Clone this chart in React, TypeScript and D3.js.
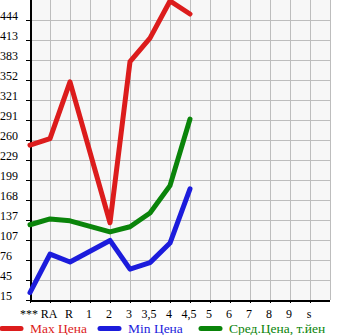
import React from "react";
import * as d3 from "d3";

const categories = ["***", "RA", "R", "1", "2", "3", "3,5", "4", "4,5", "5", "6", "7", "8", "9", "s"];
const yTickLabels = ["15", "45", "76", "107", "137", "168", "199", "229", "260", "291", "321", "352", "383", "413", "444"];
const maxPrice: (number | null)[] = [252, 262, 349, null, 133, 380, 416, 473, 453, null, null, null, null, null, null];
const minPrice: (number | null)[] = [26, 85, 73, null, 106, 62, 72, 102, 185, null, null, null, null, null, null];
const avgPrice: (number | null)[] = [130, 139, 136, null, 119, 127, 148, 190, 292, null, null, null, null, null, null];
const legendLabels = ["Max Цена", "Min Цена", "Сред.Цена, т.йен"];
const seriesColors = ["#dc1c1c", "#1c1cdc", "#0a840a"];

const W = 345;
const H = 335;
const plotLeft = 30;
const plotRight = 330;
const plotTop = 0;
const plotBottom = 300;
const yMin = 14.7;
const yStep = 30.65;

export default function App() {
  const x = d3
    .scalePoint<string>()
    .domain([...categories, "__end"])
    .range([plotLeft, plotRight]);
  const y = d3
    .scaleLinear()
    .domain([yMin, yMin + yStep * 15])
    .range([plotBottom, plotTop]);
  const tickValues = yTickLabels.map((_, i) => yMin + yStep * i);

  const series = [maxPrice, minPrice, avgPrice];
  const line = d3
    .line<{ c: string; v: number }>()
    .x((d) => x(d.c) as number)
    .y((d) => y(d.v));

  const gridX = [...categories.slice(1), "__end"].map((c) => x(c) as number);
  const gridY = tickValues.slice(1).map((v) => y(v));

  const font = "'Liberation Serif', 'Times New Roman', serif";
  const legendX = [0, 98, 199];

  return (
    <svg
      width={W}
      height={H}
      style={{ position: "absolute", left: 0, top: 0, background: "#fff" }}
    >
      <rect x={plotLeft} y={plotTop} width={plotRight - plotLeft} height={plotBottom - plotTop} fill="#f7f7f7" />
      {gridX.map((gx, i) => (
        <line key={"gx" + i} x1={gx + 0.5} x2={gx + 0.5} y1={plotTop} y2={plotBottom} stroke="#bdbdbd" strokeWidth={1} />
      ))}
      {gridY.map((gy, i) => (
        <line key={"gy" + i} x1={plotLeft} x2={plotRight} y1={gy + 0.5} y2={gy + 0.5} stroke="#bdbdbd" strokeWidth={1} />
      ))}
      {/* y ticks */}
      {tickValues.map((v, i) => (
        <g key={"yt" + i}>
          <line x1={26} x2={plotLeft} y1={y(v) + 0.5} y2={y(v) + 0.5} stroke="#000" strokeWidth={1} />
          <text x={0} y={y(v)} fontFamily={font} fontSize={12} fill="#000">
            {yTickLabels[i]}
          </text>
        </g>
      ))}
      {/* x ticks */}
      {categories.map((c, i) => (
        <g key={"xt" + i}>
          <line x1={(x(c) as number) + 0.5} x2={(x(c) as number) + 0.5} y1={plotBottom} y2={plotBottom + 3} stroke="#000" strokeWidth={1} />
          <text x={(x(c) as number) - 1} y={318} fontFamily={font} fontSize={12} fill="#000" textAnchor="middle">
            {c}
          </text>
        </g>
      ))}
      {/* axes */}
      <line x1={plotLeft + 1} x2={plotLeft + 1} y1={plotTop} y2={plotBottom + 1} stroke="#000" strokeWidth={2} />
      <line x1={plotLeft} x2={plotRight} y1={plotBottom + 1} y2={plotBottom + 1} stroke="#000" strokeWidth={2} />
      {/* series */}
      {series.map((s, si) => {
        const pts = s
          .map((v, i) => ({ c: categories[i], v: v as number, ok: v !== null }))
          .filter((d) => d.ok);
        return (
          <path
            key={"s" + si}
            d={line(pts) || ""}
            fill="none"
            stroke={seriesColors[si]}
            strokeWidth={5}
            strokeLinejoin="round"
            strokeLinecap="round"
          />
        );
      })}
      {/* legend */}
      {legendLabels.map((lab, i) => (
        <g key={"lg" + i}>
          <line
            x1={legendX[i] + 2}
            x2={legendX[i] + 21}
            y1={328.5}
            y2={328.5}
            stroke={seriesColors[i]}
            strokeWidth={5}
            strokeLinecap="round"
          />
          <text x={legendX[i] + 30} y={333} fontFamily={font} fontSize={13.5} fill={seriesColors[i]}>
            {lab}
          </text>
        </g>
      ))}
    </svg>
  );
}
